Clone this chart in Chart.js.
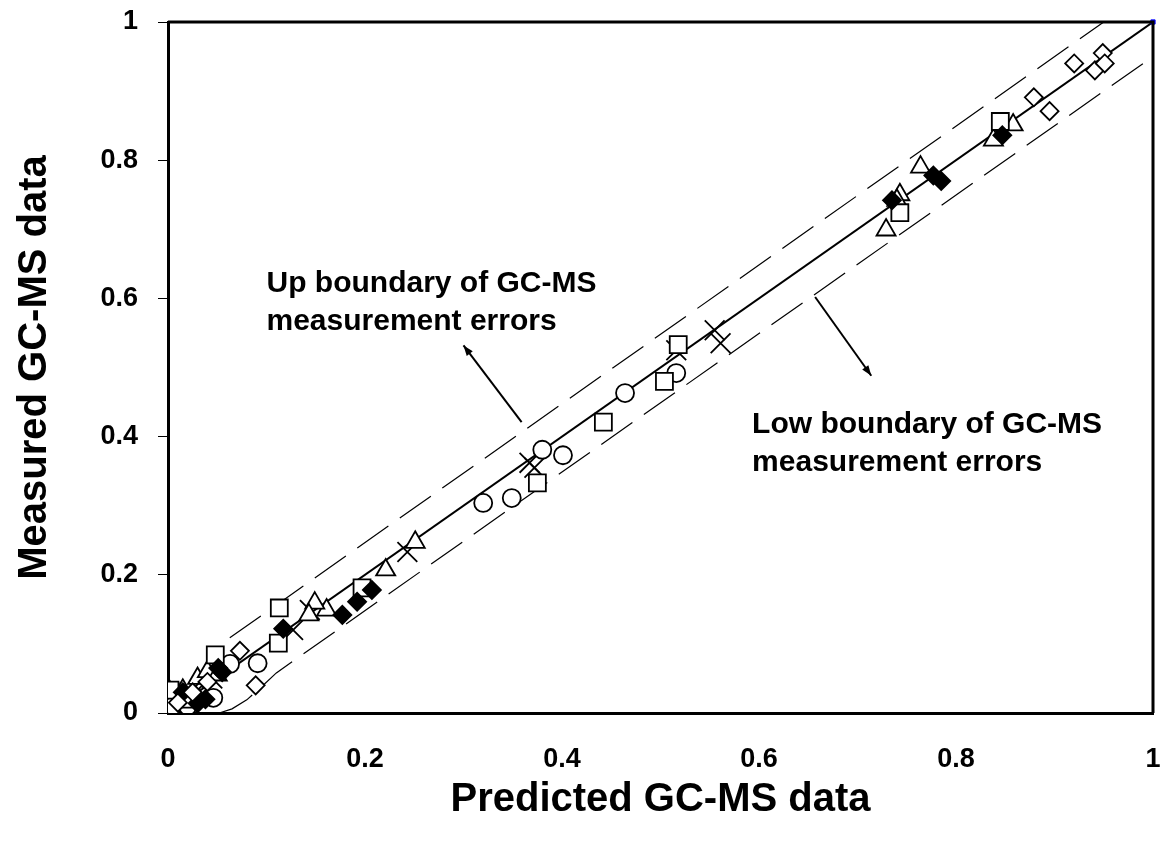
<!DOCTYPE html>
<html lang="en">
<head>
    <title>Measured vs Predicted GC-MS data</title>
    <meta charset="UTF-8">
    <script src="https://cdn.jsdelivr.net/npm/chart.js"></script>
    <style>
        body { margin: 0; background: #fff; }
    </style>
</head>
<body>
    <div style="width: 1163px; height: 848px;">
        <canvas id="parityChart"></canvas>
    </div>

    <script>
        // Data, as [predicted, measured] pairs
        const openDiamonds = [
            [0.92, 0.94], [0.949, 0.955], [0.941, 0.93], [0.951, 0.94], [0.879, 0.891], [0.895, 0.871],
            [0.073, 0.09], [0.089, 0.04], [0.01, 0.015], [0.025, 0.03], [0.04, 0.045]
        ];
        const filledDiamonds = [
            [0.777, 0.778], [0.785, 0.77], [0.735, 0.742], [0.847, 0.836], [0.207, 0.178], [0.192, 0.161],
            [0.177, 0.142], [0.117, 0.122], [0.055, 0.059], [0.051, 0.065], [0.03, 0.014], [0.015, 0.03], [0.038, 0.02]
        ];
        const openSquares = [
            [0.845, 0.856], [0.743, 0.724], [0.518, 0.533], [0.504, 0.48], [0.442, 0.421], [0.375, 0.333],
            [0.197, 0.181], [0.113, 0.152], [0.112, 0.101], [0.048, 0.084], [0.002, 0.033], [0.02, 0.02]
        ];
        const openTriangles = [
            [0.858, 0.851], [0.838, 0.829], [0.764, 0.79], [0.743, 0.75], [0.74, 0.742], [0.729, 0.699],
            [0.251, 0.247], [0.221, 0.207], [0.161, 0.149], [0.149, 0.159], [0.143, 0.142],
            [0.03, 0.05], [0.015, 0.033], [0.002, 0.03], [0.04, 0.06], [0.05, 0.055]
        ];
        const openCircles = [
            [0.516, 0.492], [0.464, 0.463], [0.38, 0.381], [0.401, 0.373], [0.349, 0.311], [0.32, 0.304],
            [0.091, 0.072], [0.063, 0.071], [0.046, 0.022], [0.0, 0.003], [0.005, 0.01], [0.02, 0.01]
        ];
        const crosses = [
            [0.555, 0.554], [0.561, 0.535], [0.516, 0.525], [0.367, 0.362], [0.372, 0.355], [0.243, 0.233],
            [0.144, 0.149], [0.127, 0.12], [0.022, 0.03], [0.035, 0.04], [0.045, 0.05], [0.01, 0.02]
        ];
        const cornerMark = [[1, 1]];

        // Reference lines
        const parityLine = [[0, 0], [1, 1]];
        const upBoundary = [[0.03, 0.05], [0.045, 0.08], [0.06, 0.106], [0.95, 1.0]];
        const lowBoundary = [[0.052, 0.0], [0.065, 0.006], [0.08, 0.019], [0.095, 0.038], [0.11, 0.058], [1.0, 0.95]];

        const xTicks = [0, 0.2, 0.4, 0.6, 0.8, 1];
        const yTicks = [0, 0.2, 0.4, 0.6, 0.8, 1];

        // Text notes and their arrows (data coordinates)
        const notes = [
            { lines: ['Up boundary of GC-MS', 'measurement errors'], x: 0.1, y: 0.609 },
            { lines: ['Low boundary of GC-MS', 'measurement errors'], x: 0.593, y: 0.405 }
        ];
        const arrows = [
            { from: [0.359, 0.421], to: [0.300, 0.532] },
            { from: [0.657, 0.602], to: [0.714, 0.488] }
        ];

        const toPoints = pairs => pairs.map(p => ({ x: p[0], y: p[1] }));
        const FONT = '"Liberation Sans", Arial, sans-serif';

        function markerSet(label, pairs, style, radius, fill) {
            return {
                label: label,
                data: toPoints(pairs),
                pointStyle: style,
                pointRadius: radius,
                pointHoverRadius: radius,
                pointBorderColor: '#000',
                pointBackgroundColor: fill,
                pointBorderWidth: 1.8,
                showLine: false,
            };
        }

        function lineSet(label, pairs, width, dash) {
            return {
                label: label,
                data: toPoints(pairs),
                showLine: true,
                borderColor: '#000',
                borderWidth: width,
                borderDash: dash,
                pointRadius: 0,
                fill: false,
            };
        }

        // no extra room for the end labels, the frame sits where the padding says
        function noOverflow(axis) {
            axis.paddingLeft = 0;
            axis.paddingRight = 0;
            axis.paddingTop = 0;
            axis.paddingBottom = 0;
        }

        // Frame, notes and arrows
        const annotate = {
            id: 'annotate',
            afterDatasetsDraw(chart) {
                const { ctx, chartArea: a, scales: { x, y } } = chart;
                ctx.save();
                ctx.strokeStyle = '#000';
                ctx.lineWidth = 3;
                ctx.beginPath();
                ctx.moveTo(a.left, a.top);
                ctx.lineTo(a.right, a.top);
                ctx.lineTo(a.right, a.bottom);
                ctx.stroke();

                ctx.fillStyle = '#000';
                ctx.font = 'bold 30px ' + FONT;
                ctx.textAlign = 'left';
                ctx.textBaseline = 'alphabetic';
                notes.forEach(n => {
                    n.lines.forEach((line, i) => {
                        ctx.fillText(line, x.getPixelForValue(n.x), y.getPixelForValue(n.y) + i * 38);
                    });
                });

                ctx.lineWidth = 2;
                arrows.forEach(ar => {
                    const x0 = x.getPixelForValue(ar.from[0]), y0 = y.getPixelForValue(ar.from[1]);
                    const x1 = x.getPixelForValue(ar.to[0]), y1 = y.getPixelForValue(ar.to[1]);
                    const ang = Math.atan2(y1 - y0, x1 - x0);
                    ctx.beginPath();
                    ctx.moveTo(x0, y0);
                    ctx.lineTo(x1, y1);
                    ctx.stroke();
                    ctx.beginPath();
                    ctx.moveTo(x1, y1);
                    ctx.lineTo(x1 - 11 * Math.cos(ang - 0.35), y1 - 11 * Math.sin(ang - 0.35));
                    ctx.lineTo(x1 - 11 * Math.cos(ang + 0.35), y1 - 11 * Math.sin(ang + 0.35));
                    ctx.closePath();
                    ctx.fill();
                });
                ctx.restore();
            }
        };

        const ctx = document.getElementById('parityChart').getContext('2d');
        const parityChart = new Chart(ctx, {
            type: 'scatter',
            data: {
                datasets: [
                    markerSet('Open diamonds', openDiamonds, 'rectRot', 9, '#fff'),
                    markerSet('Filled diamonds', filledDiamonds, 'rectRot', 9, '#000'),
                    markerSet('Squares', openSquares, 'rect', 12, '#fff'),
                    markerSet('Triangles', openTriangles, 'triangle', 11, '#fff'),
                    markerSet('Circles', openCircles, 'circle', 9, '#fff'),
                    markerSet('Crosses', crosses, 'crossRot', 14, '#fff'),
                    {
                        label: 'Corner',
                        data: toPoints(cornerMark),
                        pointStyle: 'rect',
                        pointRadius: 3,
                        pointBackgroundColor: '#0000ff',
                        pointBorderColor: '#0000ff',
                        clip: false,
                    },
                    lineSet('1:1', parityLine, 2, []),
                    lineSet('Up boundary', upBoundary, 1.2, [38, 14]),
                    lineSet('Low boundary', lowBoundary, 1.2, [38, 14]),
                ],
            },
            options: {
                responsive: true,
                maintainAspectRatio: false,
                animation: false,
                layout: { autoPadding: false, padding: { top: 22, right: 10, left: 0, bottom: 0 } },
                plugins: {
                    legend: { display: false },
                    tooltip: { enabled: false },
                },
                scales: {
                    x: {
                        type: 'linear',
                        min: 0,
                        max: 1,
                        afterBuildTicks: axis => { axis.ticks = xTicks.map(v => ({ value: v })); },
                        afterFit: axis => { axis.height = 135; noOverflow(axis); },
                        grid: { drawOnChartArea: false, drawTicks: false },
                        border: { color: '#000', width: 3 },
                        ticks: {
                            color: '#000',
                            padding: 30,
                            font: { family: FONT, size: 27, weight: 'bold' },
                            callback: v => String(v),
                        },
                        title: {
                            display: true,
                            text: 'Predicted GC-MS data',
                            color: '#000',
                            padding: { top: 24, bottom: 24 },
                            font: { family: FONT, size: 40, weight: 'bold' },
                        },
                    },
                    y: {
                        type: 'linear',
                        min: 0,
                        max: 1,
                        afterBuildTicks: axis => { axis.ticks = yTicks.map(v => ({ value: v })); },
                        afterFit: axis => { axis.width = 168; noOverflow(axis); },
                        grid: { drawOnChartArea: false, drawTicks: true, tickLength: 10, color: '#000' },
                        border: { color: '#000', width: 3 },
                        ticks: {
                            color: '#000',
                            padding: 20,
                            font: { family: FONT, size: 27, weight: 'bold' },
                            callback: v => String(v),
                        },
                        title: {
                            display: true,
                            text: 'Measured GC-MS data',
                            color: '#000',
                            padding: { top: 11, bottom: 11 },
                            font: { family: FONT, size: 40, weight: 'bold' },
                        },
                    },
                },
            },
            plugins: [annotate],
        });
    </script>
</body>
</html>
